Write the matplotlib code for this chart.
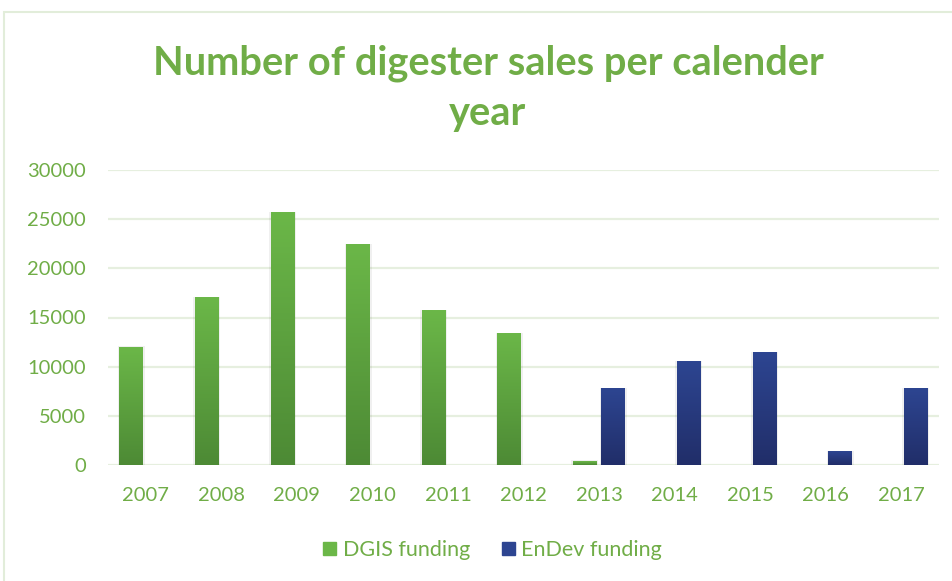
import numpy as np
import matplotlib.pyplot as plt
from matplotlib.patches import Rectangle
from matplotlib.colors import LinearSegmentedColormap

# sales per calendar year
years = ['2007', '2008', '2009', '2010', '2011', '2012', '2013', '2014', '2015', '2016', '2017']
dgis = [12000, 17000, 25700, 22400, 15700, 13400, 400, 0, 0, 0, 0]
endev = [0, 0, 0, 0, 0, 0, 7750, 10500, 11400, 1400, 7800]
series_names = ['DGIS funding', 'EnDev funding']
yticks = [0, 5000, 10000, 15000, 20000, 25000, 30000]

GREEN_TOP, GREEN_BOT = '#6BB748', '#4D8A35'
BLUE_TOP, BLUE_BOT = '#2D4591', '#212E69'
TEXT_GREEN = '#70AD47'
GRID = '#E6EFDF'

plt.rcParams['font.family'] = ['Lato', 'DejaVu Sans']

fig = plt.figure(figsize=(9.53, 5.81), dpi=100)
# outer chart frame
fig.patches.append(Rectangle((4 / 953, -0.05), 1.0, 1 - 12 / 581 + 0.05,
                             transform=fig.transFigure, fill=False,
                             edgecolor='#E2EDDA', linewidth=1.5))

ax = fig.add_axes([108 / 953, 116 / 581, 831 / 953, 295 / 581])

x = np.arange(len(years))
w = 0.317
off = 0.19


def gradient_bars(xpos, vals, top, bot, label):
    bars = ax.bar(xpos, vals, w, color=bot, label=label, zorder=3)
    cmap = LinearSegmentedColormap.from_list('g', [bot, top])
    grad = np.linspace(0, 1, 100).reshape(-1, 1)
    for b in bars:
        h = b.get_height()
        if h <= 0:
            b.set_visible(False)
            continue
        x0 = b.get_x()
        # soft shadow
        ax.add_patch(Rectangle((x0 - 0.02, 0), w + 0.04, h + 60, color='#000000',
                               alpha=0.06, linewidth=0, zorder=2))
        ax.imshow(grad, extent=(x0, x0 + w, 0, h), origin='lower', aspect='auto',
                  cmap=cmap, zorder=4)
    return bars


gradient_bars(x - off, dgis, GREEN_TOP, GREEN_BOT, series_names[0])
gradient_bars(x + off, endev, BLUE_TOP, BLUE_BOT, series_names[1])

ax.set_xlim(-0.5, len(years) - 0.5)
ax.set_ylim(0, 30000)
ax.set_yticks(yticks)
ax.set_yticklabels([str(v) for v in yticks])
ax.set_xticks(x)
ax.set_xticklabels(years)
ax.yaxis.grid(True, color=GRID, linewidth=1.6, zorder=0)
ax.set_axisbelow(True)
for s in ax.spines.values():
    s.set_visible(False)
ax.tick_params(axis='both', length=0, labelsize=14.5, colors=TEXT_GREEN)
ax.tick_params(axis='x', pad=16)
ax.tick_params(axis='y', pad=16)

fig.text(0.512, 0.848, 'Number of digester sales per calender\nyear', ha='center', va='center',
         fontsize=28.7, fontweight='bold', color=TEXT_GREEN, linespacing=1.45)

leg = fig.legend(handles=[Rectangle((0, 0), 1, 1, color=GREEN_TOP), Rectangle((0, 0), 1, 1, color=BLUE_TOP)],
                 labels=series_names, loc='center', bbox_to_anchor=(0.517, 0.053), ncol=2,
                 frameon=False, fontsize=15.5, handlelength=0.6, handleheight=0.6,
                 handletextpad=0.3, columnspacing=1.5)
for t in leg.get_texts():
    t.set_color(TEXT_GREEN)

fig.savefig('out.png', dpi=100)
